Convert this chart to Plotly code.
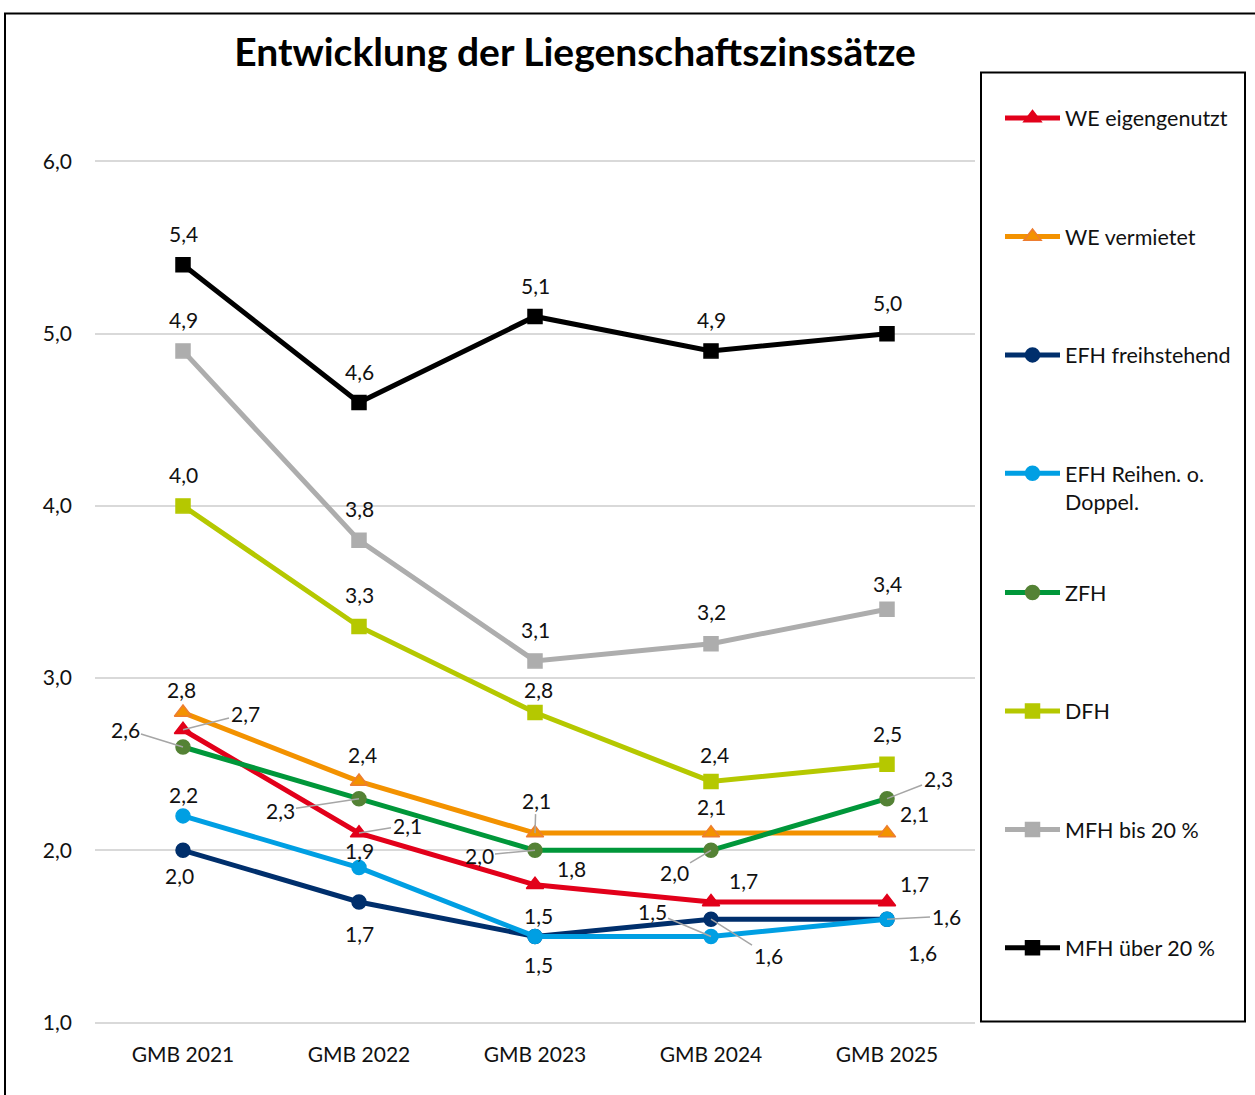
import plotly.graph_objects as go

# Categories and series values (Liegenschaftszinssatz in %)
years = ["GMB 2021", "GMB 2022", "GMB 2023", "GMB 2024", "GMB 2025"]

we_eigengenutzt = [2.7, 2.1, 1.8, 1.7, 1.7]
we_vermietet = [2.8, 2.4, 2.1, 2.1, 2.1]
efh_freistehend = [2.0, 1.7, 1.5, 1.6, 1.6]
efh_reihen = [2.2, 1.9, 1.5, 1.5, 1.6]
zfh = [2.6, 2.3, 2.0, 2.0, 2.3]
dfh = [4.0, 3.3, 2.8, 2.4, 2.5]
mfh_bis20 = [4.9, 3.8, 3.1, 3.2, 3.4]
mfh_ueber20 = [5.4, 4.6, 5.1, 4.9, 5.0]

y_ticks = [1.0, 2.0, 3.0, 4.0, 5.0, 6.0]

FONT = "Lato"
TXT = "#111111"

# name, values, line colour, marker colour, marker border, symbol, legend
series = [
    ("WE eigengenutzt", we_eigengenutzt, "#E2001A", "#E2001A", "#E2001A", "triangle-up", "legend"),
    ("WE vermietet", we_vermietet, "#F39200", "#F39200", "#ED7D31", "triangle-up", "legend"),
    ("EFH freihstehend", efh_freistehend, "#002F6C", "#002F6C", "#002F6C", "circle", "legend"),
    ("EFH Reihen. o.<br>Doppel.", efh_reihen, "#009FE3", "#009FE3", "#009FE3", "circle", "legend"),
    ("ZFH", zfh, "#00973A", "#548235", "#548235", "circle", "legend2"),
    ("DFH", dfh, "#B5C800", "#B5C800", "#B5C800", "square", "legend2"),
    ("MFH bis 20 %", mfh_bis20, "#ADADAD", "#ADADAD", "#ADADAD", "square", "legend2"),
    ("MFH über 20 %", mfh_ueber20, "#000000", "#000000", "#000000", "square", "legend2"),
]

# Data-label placement per series: (dx, dy, leader line) in pixels from the point
label_offsets = [
    [(62, -16, True), (48, -8, True), (36, -16, False), (32, -22, False), (27, -19, False)],
    [(-2, -23, False), (3, -27, False), (1, -33, True), (0, -27, False), (27, -20, False)],
    [(-4, 25, False), (0, 31, False), (3, 28, False), (57, 36, True), (35, 33, True)],
    [(0, -21, False), (0, -17, False), (3, -21, False), (-59, -25, True), (59, -3, True)],
    [(-58, -18, True), (-79, 12, True), (-56, 5, True), (-37, 22, True), (51, -20, True)],
    [(0, -31, False), (0, -32, False), (3, -23, False), (3, -27, False), (0, -31, False)],
    [(0, -31, False), (0, -32, False), (0, -31, False), (0, -32, False), (0, -26, False)],
    [(0, -31, False), (0, -31, False), (0, -31, False), (0, -31, False), (0, -31, False)],
]

fig = go.Figure()

for i, (name, vals, lc, mc, mb, sym, lg) in enumerate(series):
    fig.add_trace(go.Scatter(
        x=years, y=vals, name=name, mode="lines+markers",
        line=dict(color=lc, width=5),
        marker=dict(symbol=sym, size=15 if sym == "triangle-up" else 14,
                    color=mc, line=dict(color=mb, width=1.5)),
        legend=lg, legendgroup=f"g{i}",
    ))

annotations = []
for (name, vals, *_), offs in zip(series, label_offsets):
    for x, v, (dx, dy, leader) in zip(years, vals, offs):
        annotations.append(dict(
            x=x, y=v, xref="x", yref="y",
            text=f"{v:.1f}".replace(".", ","),
            showarrow=True, ax=dx, ay=dy, axref="pixel", ayref="pixel",
            arrowhead=0, arrowwidth=1.5, standoff=0,
            arrowcolor="#A6A6A6" if leader else "rgba(0,0,0,0)",
            font=dict(family=FONT, size=21, color=TXT),
        ))

# Value axis runs slightly past 1..6 so the outer gridlines are drawn;
# 1.0 sits at y=1023 px and 6.0 at y=161 px.
Y_LO, Y_HI = 0.98, 6.02
PX_PER_UNIT = (1023 - 161) / 5.0
TOP = 161 - (Y_HI - 6.0) * PX_PER_UNIT
BOTTOM = 1023 + (1.0 - Y_LO) * PX_PER_UNIT
PLOT_H = BOTTOM - TOP


def px_x(p):
    return (p - 95) / 880


def px_y(p):
    return (BOTTOM - p) / PLOT_H


shapes = [
    # legend frame
    dict(type="rect", xref="paper", yref="paper",
         x0=px_x(981), x1=px_x(1245), y0=px_y(1022), y1=px_y(72),
         line=dict(color="black", width=2), fillcolor="rgba(0,0,0,0)"),
    # outer chart frame (left and top edges visible)
    dict(type="path", xref="paper", yref="paper",
         path=f"M {px_x(5)},{px_y(1110)} L {px_x(5)},{px_y(13)} L {px_x(1270)},{px_y(13)}",
         line=dict(color="black", width=2)),
]

legend_style = dict(xanchor="left", yanchor="top", tracegroupgap=87.5, valign="top",
                    itemwidth=55, bgcolor="rgba(0,0,0,0)",
                    font=dict(family=FONT, size=21.5, color=TXT))

fig.update_layout(
    width=1255, height=1095,
    margin=dict(l=95, r=280, t=TOP, b=1095 - BOTTOM),
    paper_bgcolor="white", plot_bgcolor="white",
    separators=",.",
    font=dict(family=FONT, size=21, color=TXT),
    title=dict(text="<b>Entwicklung der Liegenschaftszinssätze</b>",
               font=dict(family=FONT, size=39, color="black"),
               xref="paper", x=px_x(575), xanchor="center",
               yref="container", y=1 - 52 / 1095, yanchor="middle"),
    xaxis=dict(type="category", range=[-0.5, 4.5], showgrid=False, showline=False,
               zeroline=False, ticks="", ticklabelstandoff=14,
               tickfont=dict(family=FONT, size=21, color=TXT)),
    yaxis=dict(range=[Y_LO, Y_HI], tickvals=y_ticks, tickformat=".1f", showgrid=True,
               gridcolor="#D9D9D9", gridwidth=1.5, showline=False, zeroline=False,
               ticks="", ticklabelstandoff=22,
               tickfont=dict(family=FONT, size=21, color=TXT)),
    legend=dict(x=px_x(1000), y=px_y(97), **legend_style),
    legend2=dict(x=px_x(1000), y=px_y(572), **legend_style),
    annotations=annotations,
    shapes=shapes,
)

fig.write_html("out.html")
